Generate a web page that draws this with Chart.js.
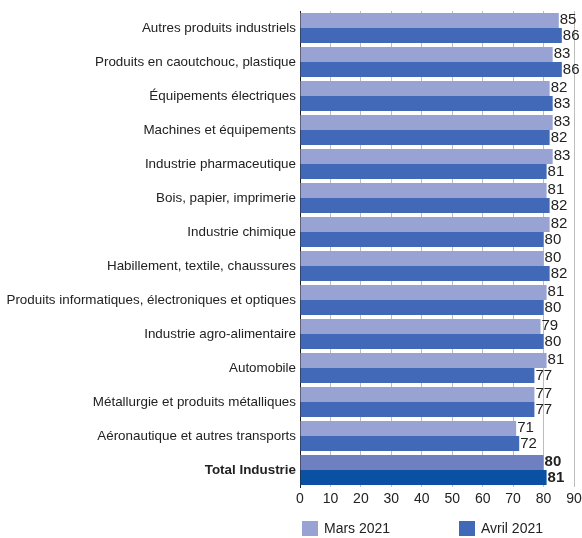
<!DOCTYPE html>
<html><head><meta charset="utf-8">
<script src="https://cdn.jsdelivr.net/npm/chart.js@4"></script>
<style>
html,body{margin:0;padding:0;background:#fff;}
#wrap{position:relative;width:582px;height:538px;}
.lg{position:absolute;top:520px;font-family:"Liberation Sans",Arial,sans-serif;font-size:14px;color:#222;display:flex;align-items:center;}
.sw{width:16px;height:15px;margin-right:6px;}
</style></head><body>
<div id="wrap"><canvas id="c" width="582" height="538"></canvas>
<div class="lg" style="left:302px"><div class="sw" style="background:#99A3D3"></div>Mars 2021</div>
<div class="lg" style="left:459px"><div class="sw" style="background:#4169B7"></div>Avril 2021</div>
</div>
<script>
const categories = ["Autres produits industriels","Produits en caoutchouc, plastique","Équipements électriques","Machines et équipements","Industrie pharmaceutique","Bois, papier, imprimerie","Industrie chimique","Habillement, textile, chaussures","Produits informatiques, électroniques et optiques","Industrie agro-alimentaire","Automobile","Métallurgie et produits métalliques","Aéronautique et autres transports","Total Industrie"];
const mars2021 = [85,83,82,83,83,81,82,80,81,79,81,77,71,80];
const avril2021 = [86,86,83,82,81,82,80,82,80,80,77,77,72,81];
const xTicks = [0,10,20,30,40,50,60,70,80,90];

const FONT = '"Liberation Sans",Arial,sans-serif';
const last = categories.length-1;
const marsColors = categories.map((c,i)=> i===last ? '#6E80C0' : '#99A3D3');
const avrilColors = categories.map((c,i)=> i===last ? '#0B51A3' : '#4169B7');

const labelPlugin = {
  id:'vals',
  afterDatasetsDraw(chart){
    const ctx = chart.ctx;
    chart.data.datasets.forEach((ds,di)=>{
      const meta = chart.getDatasetMeta(di);
      meta.data.forEach((bar,i)=>{
        ctx.save();
        ctx.font = (i===last?'bold ':'') + '15px ' + FONT;
        ctx.fillStyle = '#222';
        ctx.textAlign='left';
        ctx.textBaseline='middle';
        ctx.fillText(String(ds.data[i]), bar.x+1, bar.y + (di===0?-1:0));
        ctx.restore();
      });
    });
  }
};

new Chart(document.getElementById('c'),{
  type:'bar',
  data:{labels:categories,datasets:[
    {label:'Mars 2021',data:mars2021,backgroundColor:marsColors,barPercentage:1,categoryPercentage:0.88},
    {label:'Avril 2021',data:avril2021,backgroundColor:avrilColors,barPercentage:1,categoryPercentage:0.88}
  ]},
  options:{
    indexAxis:'y',responsive:false,animation:false,
    layout:{padding:{top:11,right:8,bottom:29,left:0}},
    plugins:{legend:{display:false},tooltip:{enabled:false}},
    scales:{
      x:{min:0,max:90,afterBuildTicks(s){s.ticks=xTicks.map(v=>({value:v}));},
        grid:{color:'#BDBDBD',lineWidth:1,drawTicks:false},
        border:{display:false},
        ticks:{font:{family:FONT,size:14},color:'#222',padding:4},
        afterFit(s){s.height=22;s.paddingRight=0;s.paddingLeft=0;}
      },
      y:{grid:{display:false,drawTicks:false},
        border:{display:true,color:'#222',width:1},
        ticks:{autoSkip:false,padding:4,color:'#222',
          font(ctx){return {family:FONT,size:13.4,weight: ctx.index===last?'bold':'normal'};}},
        afterFit(s){s.width=300;s.paddingTop=0;s.paddingBottom=0;}
      }
    }
  },
  plugins:[labelPlugin]
});
</script>
</body></html>
